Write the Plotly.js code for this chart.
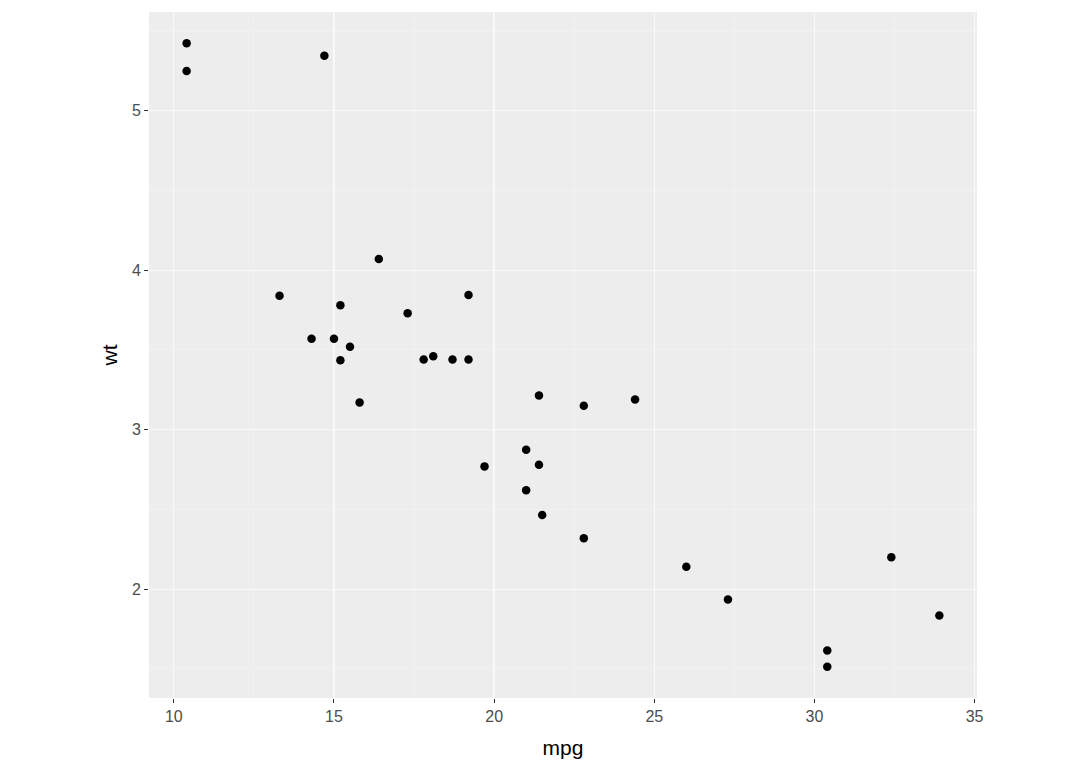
<!DOCTYPE html>
<html>
<head>
<meta charset="utf-8">
<script src="https://cdn.plot.ly/plotly-3.0.1.min.js"></script>
<style>html,body{margin:0;padding:0;background:#fff;}#chart{width:1080px;height:771px;}</style>
</head>
<body>
<div id="chart"></div>
<script>
const mpg = [21.0,21.0,22.8,21.4,18.7,18.1,14.3,24.4,22.8,19.2,17.8,16.4,17.3,15.2,10.4,10.4,14.7,32.4,30.4,33.9,21.5,15.5,15.2,13.3,19.2,27.3,26.0,30.4,15.8,19.7,15.0,21.4];
const wt = [2.620,2.875,2.320,3.215,3.440,3.460,3.570,3.190,3.150,3.440,3.440,4.070,3.730,3.780,5.250,5.424,5.345,2.200,1.615,1.835,2.465,3.520,3.435,3.840,3.845,1.935,2.140,1.513,3.170,2.770,3.570,2.780];
const xTicks = [10,15,20,25,30,35];
const yTicks = [2,3,4,5];
const xMinor = [7.5,12.5,17.5,22.5,27.5,32.5];
const yMinor = [1.5,2.5,3.5,4.5,5.5];

const xmin = Math.min(...mpg), xmax = Math.max(...mpg);
const ymin = Math.min(...wt), ymax = Math.max(...wt);
const xr = [xmin - 0.05*(xmax-xmin), xmax + 0.05*(xmax-xmin)];
const yr = [ymin - 0.05*(ymax-ymin), ymax + 0.05*(ymax-ymin)];

const FONT = 'Liberation Sans, Arial, sans-serif';

const trace = {
  x: mpg, y: wt, type: 'scatter', mode: 'markers',
  marker: {color: '#000000', size: 8.5, line: {width: 0}},
  hoverinfo: 'x+y'
};

const axisCommon = {
  showgrid: true, gridcolor: '#F9F9F9', gridwidth: 1.3,
  zeroline: false, showline: false,
  ticks: 'outside', ticklen: 4, tickwidth: 1, tickcolor: '#333333',
  tickfont: {family: FONT, size: 16, color: '#4D4D4D'}
};

const layout = {
  width: 1080, height: 771,
  margin: {l: 149, r: 103, t: 12, b: 73},
  paper_bgcolor: '#FFFFFF',
  plot_bgcolor: '#EDEDED',
  showlegend: false,
  xaxis: Object.assign({}, axisCommon, {
    range: xr, tickmode: 'array', tickvals: xTicks, ticktext: xTicks.map(String),
    minor: {showgrid: true, gridcolor: '#F2F2F2', gridwidth: 0.7, ticks: '', tickmode: 'array', tickvals: xMinor},
    title: {text: 'mpg', font: {family: FONT, size: 21, color: '#000000'}, standoff: 16}
  }),
  yaxis: Object.assign({}, axisCommon, {
    range: yr, tickmode: 'array', tickvals: yTicks, ticktext: yTicks.map(String),
    minor: {showgrid: true, gridcolor: '#F2F2F2', gridwidth: 0.7, ticks: '', tickmode: 'array', tickvals: yMinor},
    title: {text: 'wt', font: {family: FONT, size: 21, color: '#000000'}, standoff: 8}
  })
};

Plotly.newPlot('chart', [trace], layout, {displayModeBar: false, staticPlot: true});
</script>
</body>
</html>
